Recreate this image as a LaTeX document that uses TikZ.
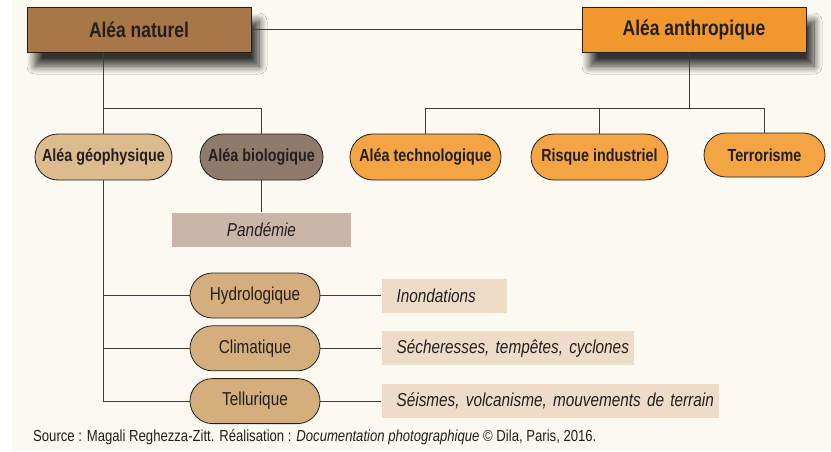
\documentclass[tikz,border=0pt]{standalone}
\usepackage{fontspec}
\setmainfont{Liberation Sans}[FakeStretch=0.82]
\usepackage{tikz}
\usetikzlibrary{positioning}
\usetikzlibrary{shapes.misc}
\usetikzlibrary{shadows,shadows.blur}
\usetikzlibrary{calc}
\definecolor{bgcol}{HTML}{FCFAF0}
\definecolor{natfill}{HTML}{A87747}
\definecolor{anthfill}{HTML}{F2962E}
\definecolor{geofill}{HTML}{DCBB8F}
\definecolor{biofill}{HTML}{8F7B6C}
\definecolor{pandfill}{HTML}{C9B6A9}
\definecolor{orangefill}{HTML}{F5A443}
\definecolor{subfill}{HTML}{D4AE7C}
\definecolor{examplefill}{HTML}{EDDDC8}
\definecolor{ink}{HTML}{231F20}
\definecolor{wirecol}{HTML}{3C3C3C}
\tikzstyle{titlebox}=[rectangle,draw=ink,line width=0.8pt,minimum width=224pt,minimum height=45pt,inner sep=0pt,font=\fontsize{21.3}{24}\selectfont\bfseries,text=ink,blur shadow={shadow xshift=8pt,shadow yshift=-14pt,shadow blur radius=8pt,shadow blur steps=12,shadow opacity=80}]
\tikzstyle{pill}=[rounded rectangle,draw=ink,line width=0.8pt,minimum height=46pt,inner sep=0pt,font=\fontsize{17.5}{20}\selectfont\bfseries,text=ink]
\tikzstyle{subpill}=[pill,fill=subfill,minimum width=130pt,minimum height=45pt,font=\fontsize{18.7}{21}\selectfont]
\tikzstyle{example}=[rectangle,fill=examplefill,minimum height=34pt,inner xsep=15pt,inner ysep=0pt,align=left,text=ink,font=\fontsize{18.7}{21}\selectfont\itshape]
\tikzstyle{wire}=[draw=wirecol,line width=0.9pt]

\begin{document}
\begin{tikzpicture}[x=1pt,y=-1pt]
    % page and background
    \useasboundingbox (0,0) rectangle (831,451);
    \fill[white] (0,0) rectangle (831,451);
    \fill[bgcol] (12,0) rectangle (831,451);

    % the two main hazards
    \node[titlebox,fill=natfill] (nat) at (139,29.5) {Aléa naturel};
    \node[titlebox,fill=anthfill] (anth) at (694,29.5) {Aléa anthropique};

    % second level
    \node[pill,fill=geofill,minimum width=137pt] (geo) at (103.5,157) {Aléa géophysique};
    \node[pill,fill=biofill,minimum width=123pt] (bio) at (261.5,157) {Aléa biologique};
    \node[pill,fill=orangefill,minimum width=151pt] (techno) at (425.5,157) {Aléa technologique};
    \node[pill,fill=orangefill,minimum width=137pt] (indus) at (599.5,157) {Risque industriel};
    \node[pill,fill=orangefill,minimum width=121pt,minimum height=44pt] (terro) at (764.5,155) {Terrorisme};

    \node[example,fill=pandfill,minimum width=179pt,align=center,below=32pt of bio] (pand) {Pandémie};

    % geophysical hazards
    \node[subpill] (hydro) at (255,295.5) {Hydrologique};
    \node[subpill,below=7pt of hydro] (clim) {Climatique};
    \node[subpill,below=7pt of clim] (tell) {Tellurique};

    \node[example,text width=95pt,right=61pt of hydro] (inond) {\mbox{Inondations}};
    \node[example,text width=222pt,right=61pt of clim] (sech) {\mbox{Sécheresses, tempêtes, cyclones}};
    \node[example,text width=307pt,right=61pt of tell] (seis) {\mbox{Séismes, volcanisme, mouvements de terrain}};

    % connectors
    \coordinate (natfork) at (103.5,108);
    \coordinate (anthfork) at (689,108);
    \draw[wire] (nat) -- (anth);
    \draw[wire] (natfork |- nat.south) -- (geo.north);
    \draw[wire] (natfork) -| (bio.north);
    \draw[wire] (anthfork |- anth.south) -- (anthfork);
    \draw[wire] (techno.north) |- (anthfork -| terro.north) -- (terro.north);
    \draw[wire] (indus.north) -- (indus.north |- anthfork);
    \draw[wire] (bio.south) -- (pand.north);
    \draw[wire] (geo.south) |- (tell.west);
    \foreach \a in {hydro,clim}
        \draw[wire] (\a.west) -- (\a.west -| geo.south);
    \foreach \a/\b in {hydro/inond, clim/sech, tell/seis}
        \draw[wire] (\a.east) -- (\a.east -| \b.west);

    % source line
    \node[anchor=west,inner sep=0pt,text=ink,font=\fontsize{16}{18}\selectfont] (src) at (33,437)
        {Source : Magali Reghezza-Zitt. Réalisation : \textit{Documentation photographique} © Dila, Paris, 2016.};
\end{tikzpicture}
\end{document}
